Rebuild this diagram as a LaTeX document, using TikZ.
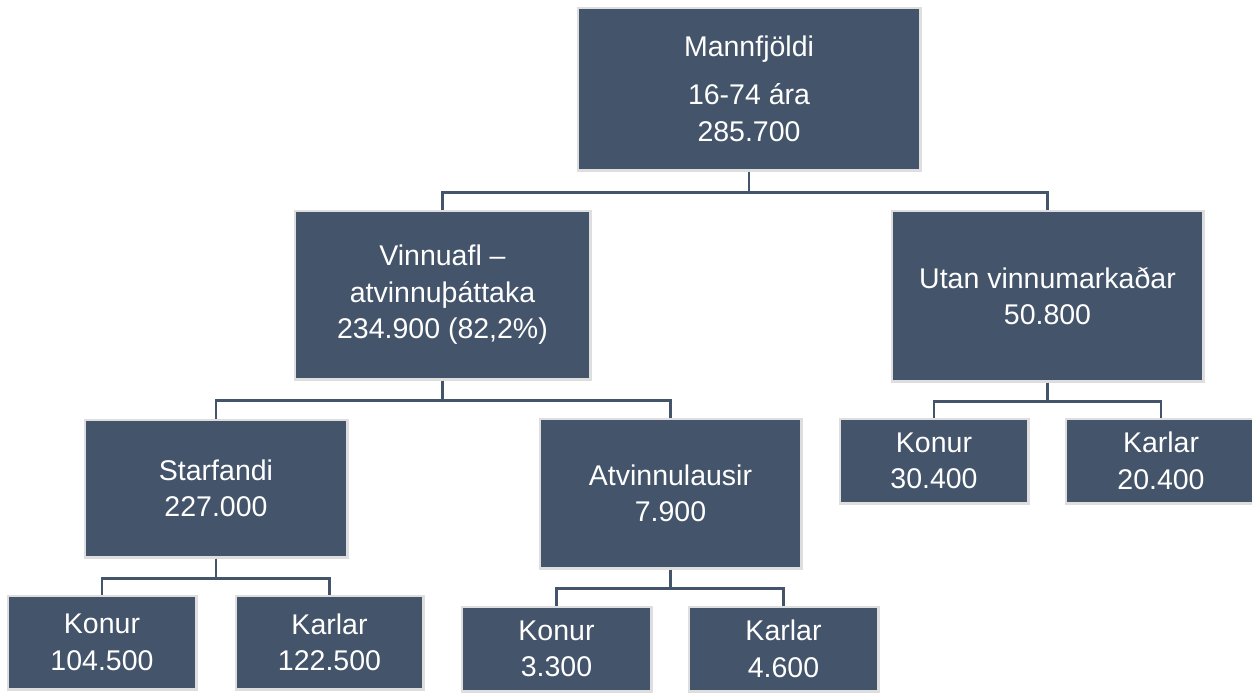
\documentclass[tikz,border=0pt]{standalone}
\usepackage{fontspec}
\setmainfont{Liberation Sans}
\definecolor{slate}{HTML}{44546A}
\definecolor{rim}{HTML}{DEDEDE}

\begin{document}
\begin{tikzpicture}[x=1pt,y=-1pt,
  box/.style={rectangle,fill=slate,draw=rim,line width=2.5pt,inner sep=0pt,
    text=white,align=center,font=\fontsize{28.5}{36.5}\selectfont},
  sz/.style 2 args={minimum width={#1pt+2.5pt},minimum height={#2pt+2.5pt}},
  link/.style={draw=slate,line width=2.5pt}]
\useasboundingbox (0,0) rectangle (1252,696);
% top level
\node[box,sz={340}{160}] (mann) at (749,89) {Mannfjöldi\\[11.5pt]16-74 ára\\285.700};
% second level
\node[box,sz={293}{166}] (vinn) at (442.5,295) {Vinnuafl –\\atvinnuþáttaka\\234.900 (82,2\%)};
\node[box,sz={309}{168}] (utan) at (1047.5,296) {Utan vinnumarkaðar\\50.800};
% third level
\node[box,sz={260}{135}] (starf) at (216,488.5) {Starfandi\\227.000};
\node[box,sz={259}{147}] (atvl) at (670.5,493.5) {Atvinnulausir\\7.900};
\node[box,sz={186}{82}] (ukonur) at (934,461) {Konur\\30.400};
\node[box,sz={188}{82}] (ukarlar) at (1161,461) {Karlar\\20.400};
% bottom level
\node[box,sz={186}{91}] (skonur) at (102,642.5) {Konur\\104.500};
\node[box,sz={185}{91}] (skarlar) at (329.5,642.5) {Karlar\\122.500};
\node[box,sz={187}{82}] (akonur) at (556.5,649) {Konur\\3.300};
\node[box,sz={187}{82}] (akarlar) at (783.5,649) {Karlar\\4.600};
% connectors
\draw[link] (mann.south) -- ++(0,21) -| (vinn.north);
\draw[link] (mann.south) -- ++(0,21) -| (utan.north);
\draw[link] (vinn.south) -- ++(0,20) -| (starf.north);
\draw[link] (vinn.south) -- ++(0,20) -| (atvl.north);
\draw[link] (utan.south) -- ++(0,19) -| (ukonur.north);
\draw[link] (utan.south) -- ++(0,19) -| (ukarlar.north);
\draw[link] (starf.south) -- ++(0,20) -| (skonur.north);
\draw[link] (starf.south) -- ++(0,20) -| (skarlar.north);
\draw[link] (atvl.south) -- ++(0,19) -| (akonur.north);
\draw[link] (atvl.south) -- ++(0,19) -| (akarlar.north);
\end{tikzpicture}
\end{document}
